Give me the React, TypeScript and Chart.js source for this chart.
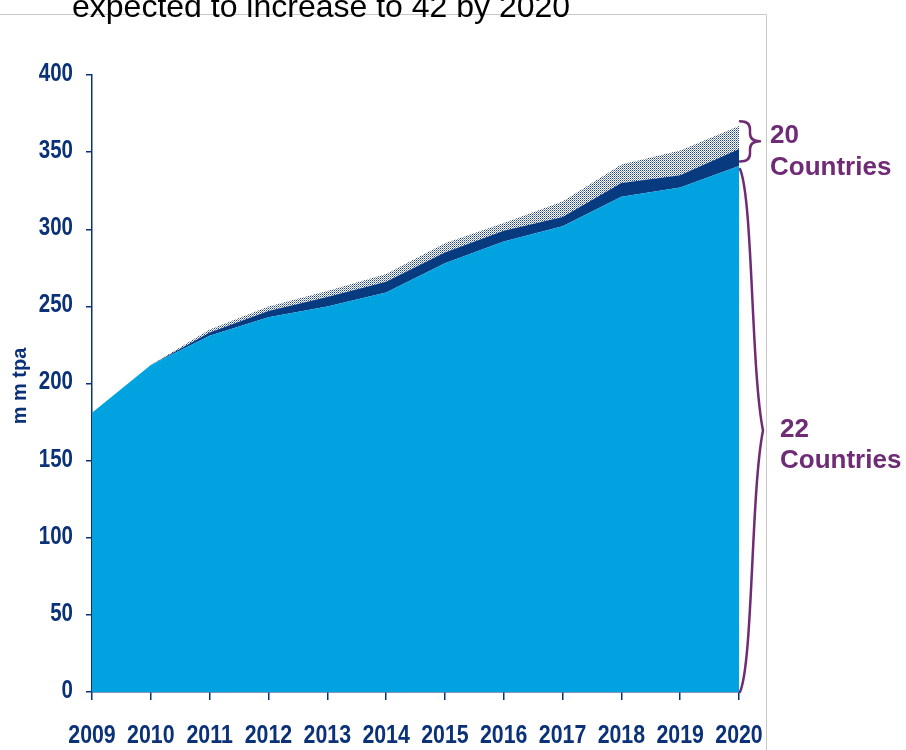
import React, { useEffect, useRef } from 'react';
import { Chart, registerables } from 'chart.js';

Chart.register(...registerables);

// ---- data ----
const years = ['2009', '2010', '2011', '2012', '2013', '2014', '2015', '2016', '2017', '2018', '2019', '2020'];
// existing exporters (22 countries), mtpa
const existing22 = [181, 212, 231, 243, 250, 259, 278, 292, 302, 321, 327, 341];
// new exporters, firm capacity (stacked on top)
const newFirm = [0, 0, 2, 4, 6, 7, 7, 7, 6, 9, 8, 11];
// new exporters, possible capacity (stacked on top)
const newPossible = [0, 0, 2, 3, 4, 5, 6, 5, 10, 12, 16, 15];
const yTickValues = [0, 50, 100, 150, 200, 250, 300, 350, 400];
const titleText = 'expected to increase to 42 by 2020';
const yAxisTitle = 'm m tpa';
const upperLabel = ['20', 'Countries'];
const lowerLabel = ['22', 'Countries'];
// value ranges spanned by the braces
const upperBraceRange = [344, 370];
const lowerBraceRange = [0, 339];

const NAVY = '#0b3278';
const LIGHT = '#00a3e0';
const DARK = '#083a80';
const PURPLE = '#6f2b75';
const TEXT_FONT = "'Liberation Sans', Arial, sans-serif";
const NARROW = 0.82;

function makeDotPattern(): CanvasPattern | string {
  const c = document.createElement('canvas');
  c.width = 2;
  c.height = 2;
  const g = c.getContext('2d');
  if (!g) return '#a9b6cf';
  g.fillStyle = '#ffffff';
  g.fillRect(0, 0, 2, 2);
  g.fillStyle = '#1f3f80';
  g.fillRect(0, 0, 1, 1);
  g.fillStyle = '#8496ba';
  g.fillRect(1, 1, 1, 1);
  const p = g.createPattern(c, 'repeat');
  return p || '#a9b6cf';
}

function narrowText(ctx: CanvasRenderingContext2D, text: string, x: number, y: number, align: 'left' | 'center' | 'right') {
  ctx.save();
  ctx.translate(x, y);
  ctx.scale(NARROW, 1);
  ctx.textAlign = align;
  ctx.fillText(text, 0, 0);
  ctx.restore();
}

const decorPlugin = {
  id: 'decor',
  beforeDraw(chart: any) {
    const ctx = chart.ctx as CanvasRenderingContext2D;
    ctx.save();
    ctx.strokeStyle = '#c8c8c8';
    ctx.lineWidth = 1;
    ctx.beginPath();
    ctx.moveTo(0, 14.5);
    ctx.lineTo(766.5, 14.5);
    ctx.lineTo(766.5, 750);
    ctx.stroke();
    ctx.fillStyle = '#000000';
    ctx.font = `32px ${TEXT_FONT}`;
    ctx.textAlign = 'left';
    ctx.textBaseline = 'alphabetic';
    ctx.fillText(titleText, 72, 17);
    ctx.restore();
  },
  afterDraw(chart: any) {
    const ctx = chart.ctx as CanvasRenderingContext2D;
    const y = chart.scales.y;
    const x = chart.scales.x;
    const area = chart.chartArea;
    const x0 = area.right + 1;
    ctx.save();

    // tick labels (condensed bold)
    ctx.fillStyle = NAVY;
    ctx.font = `bold 26px ${TEXT_FONT}`;
    ctx.textBaseline = 'alphabetic';
    years.forEach((lab, i) => {
      narrowText(ctx, lab, x.getPixelForTick(i), 743, 'center');
    });
    ctx.font = `bold 25px ${TEXT_FONT}`;
    ctx.textBaseline = 'middle';
    y.ticks.forEach((t: any, i: number) => {
      narrowText(ctx, String(t.value), 73, y.getPixelForTick(i) - 1, 'right');
    });

    ctx.strokeStyle = PURPLE;
    ctx.lineWidth = 2.5;
    ctx.lineCap = 'round';
    ctx.lineJoin = 'round';

    // upper brace
    {
      const t = y.getPixelForValue(upperBraceRange[1]);
      const b = y.getPixelForValue(upperBraceRange[0]);
      const m = (t + b) / 2;
      const w = 20;
      const q = 8;
      ctx.beginPath();
      ctx.moveTo(x0, t);
      ctx.quadraticCurveTo(x0 + w / 2, t, x0 + w / 2, t + q);
      ctx.lineTo(x0 + w / 2, m - q);
      ctx.quadraticCurveTo(x0 + w / 2, m, x0 + w, m);
      ctx.quadraticCurveTo(x0 + w / 2, m, x0 + w / 2, m + q);
      ctx.lineTo(x0 + w / 2, b - q);
      ctx.quadraticCurveTo(x0 + w / 2, b, x0, b);
      ctx.stroke();
    }
    // lower brace
    {
      const t = y.getPixelForValue(lowerBraceRange[1]);
      const b = y.getPixelForValue(lowerBraceRange[0]);
      const m = (t + b) / 2;
      const w = 23;
      ctx.beginPath();
      ctx.moveTo(x0, t);
      ctx.bezierCurveTo(x0 + 13, t + 30, x0 + 11, m - 60, x0 + w, m);
      ctx.bezierCurveTo(x0 + 11, m + 60, x0 + 13, b - 30, x0, b);
      ctx.stroke();
    }

    ctx.fillStyle = PURPLE;
    ctx.font = `bold 26px ${TEXT_FONT}`;
    ctx.textAlign = 'left';
    ctx.textBaseline = 'alphabetic';
    ctx.fillText(upperLabel[0], 770, 143);
    ctx.fillText(upperLabel[1], 770, 175);
    ctx.fillText(lowerLabel[0], 780, 437);
    ctx.fillText(lowerLabel[1], 780, 468);

    // y axis title
    ctx.translate(20, 386);
    ctx.rotate(-Math.PI / 2);
    ctx.fillStyle = NAVY;
    ctx.font = `bold 20px ${TEXT_FONT}`;
    ctx.textAlign = 'center';
    ctx.textBaseline = 'middle';
    ctx.fillText(yAxisTitle, 0, 0);
    ctx.restore();
  },
};

export default function App() {
  const ref = useRef<HTMLCanvasElement | null>(null);

  useEffect(() => {
    if (!ref.current) return;
    const dots = makeDotPattern();
    const chart = new Chart(ref.current, {
      type: 'line',
      data: {
        labels: years,
        datasets: [
          {
            label: '22 Countries',
            data: existing22,
            fill: 'origin',
            backgroundColor: LIGHT,
            borderWidth: 0,
            pointRadius: 0,
            tension: 0,
          },
          {
            label: 'New countries (firm)',
            data: newFirm,
            fill: '-1',
            backgroundColor: DARK,
            borderWidth: 0,
            pointRadius: 0,
            tension: 0,
          },
          {
            label: 'New countries (possible)',
            data: newPossible,
            fill: '-1',
            backgroundColor: dots as any,
            borderWidth: 0,
            pointRadius: 0,
            tension: 0,
          },
        ],
      },
      options: {
        responsive: false,
        animation: false,
        layout: { padding: { left: 0, top: 75, right: 167, bottom: 0 } },
        plugins: {
          legend: { display: false },
          tooltip: { enabled: false },
          title: { display: false },
        },
        scales: {
          x: {
            offset: false,
            grid: {
              drawOnChartArea: false,
              drawTicks: true,
              tickLength: 8,
              color: NAVY,
              lineWidth: 1.5,
            },
            border: { display: true, color: NAVY, width: 1.5 },
            ticks: { display: false, autoSkip: false },
            afterFit(scale: any) {
              scale.height = 58;
            },
          },
          y: {
            stacked: true,
            min: 0,
            max: 400,
            afterBuildTicks(scale: any) {
              scale.ticks = yTickValues.map((v) => ({ value: v }));
            },
            grid: {
              drawOnChartArea: false,
              drawTicks: true,
              tickLength: 6,
              color: NAVY,
              lineWidth: 1.5,
            },
            border: { display: true, color: NAVY, width: 1.5 },
            ticks: { display: false },
            afterFit(scale: any) {
              scale.width = 92;
            },
          },
        },
      },
      plugins: [decorPlugin],
    });
    return () => chart.destroy();
  }, []);

  return (
    <div style={{ position: 'fixed', left: 0, top: 0, width: 906, height: 750, background: '#ffffff' }}>
      <canvas ref={ref} width={906} height={750} style={{ width: 906, height: 750, display: 'block' }} />
    </div>
  );
}
